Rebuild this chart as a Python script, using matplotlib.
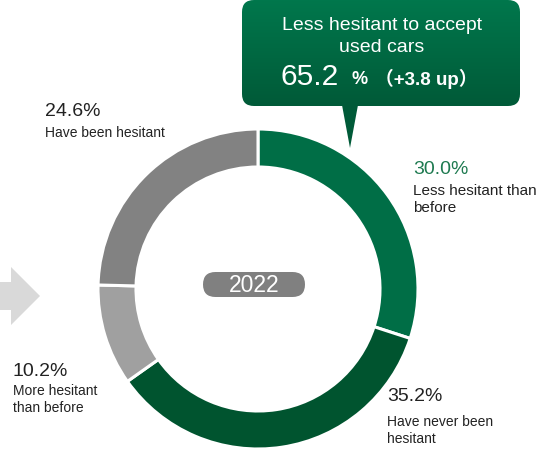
import numpy as np
import matplotlib
matplotlib.use("Agg")
import matplotlib.pyplot as plt
from matplotlib.patches import FancyBboxPatch, Polygon

# ---- data ----
labels = ["Less hesitant than\nbefore", "Have never been\nhesitant",
          "More hesitant\nthan before", "Have been hesitant"]
shares = [30.0, 35.2, 10.2, 24.6]
colors = ["#006E46", "#00542F", "#A0A0A0", "#828282"]
year = "2022"
total_less = 65.2
change = 3.8

W, H = 552, 452
FONT = ["Liberation Sans", "Noto Sans CJK JP", "DejaVu Sans"]
plt.rcParams["font.family"] = FONT

fig = plt.figure(figsize=(W / 100, H / 100), dpi=100)
ax = fig.add_axes([0, 0, 1, 1])


def py(y):
    # pixel row -> axis y
    return H - y


# ---- donut ----
cx, cy, R = 258, py(290), 160
ax.pie(shares, colors=colors, startangle=90, counterclock=False,
       radius=R, center=(cx, cy), frame=True,
       wedgeprops=dict(width=38, edgecolor="white", linewidth=2.2))
ax.set_xlim(0, W)
ax.set_ylim(0, H)
ax.set_aspect("equal")
ax.axis("off")

# year pill in the middle
pill = FancyBboxPatch((203, py(298)), 102, 25,
                      boxstyle="round,pad=0,rounding_size=12.5",
                      fc="#808080", ec="none")
ax.add_patch(pill)
ax.text(254, py(286), year, color="white", fontsize=16.5,
        ha="center", va="center")

# ---- segment labels ----
lab_pos = [(413, 170, "#1E7A50"), (387, 397, "#222222"),
           (13, 372, "#222222"), (45, 111, "#222222")]
desc_off = [22, 26, 20, 23]
desc_size = [11, 10, 10, 10]
for s, lab, (x, y, c), d, fs in zip(shares, labels, lab_pos, desc_off, desc_size):
    ax.text(x, py(y), f"{s:.1f}%", color=c, fontsize=14,
            ha="left", va="center")
    ax.text(x, py(y + d - 8), lab, color="#222222", fontsize=fs,
            ha="left", va="top", linespacing=1.3)

# ---- arrow on the left ----
arrow = Polygon([(0, py(283)), (11, py(283)), (11, py(268)), (40, py(297)),
                 (11, py(326)), (11, py(311)), (0, py(311))],
                closed=True, fc="#D9D9D9", ec="none")
ax.add_patch(arrow)

# ---- callout box with vertical gradient ----
bx0, bx1, by0, by1 = 242, 520, 1, 107
box = FancyBboxPatch((bx0, py(by1)), bx1 - bx0, by1 - by0,
                     boxstyle="round,pad=0,rounding_size=12",
                     fc="none", ec="none")
ax.add_patch(box)
grad = np.linspace(0, 1, 100).reshape(-1, 1)
cmap = matplotlib.colors.LinearSegmentedColormap.from_list(
    "g", ["#00774C", "#005A38"])
img = ax.imshow(grad, cmap=cmap, extent=(bx0, bx1, py(by1), py(by0)),
                origin="upper", aspect="auto", zorder=3)
img.set_clip_path(box)
tail = Polygon([(342, py(by1 - 1)), (358, py(by1 - 1)), (350, py(149))],
               closed=True, fc="#005A38", ec="none", zorder=3)
ax.add_patch(tail)

ax.text(382, py(25), "Less hesitant to accept", color="white",
        fontsize=14, ha="center", va="center", zorder=4)
ax.text(382, py(47), "used cars", color="white",
        fontsize=14, ha="center", va="center", zorder=4)
ax.text(281, py(77), f"{total_less:.1f}", color="white", fontsize=21.5,
        ha="left", va="center", zorder=4)
ax.text(351, py(79), "%", color="white", fontsize=13, fontweight="bold",
        ha="left", va="center", zorder=4)
ax.text(375, py(79), f"（+{change:.1f} up）", color="white", fontsize=13.5,
        fontweight="bold", ha="left", va="center", zorder=4)

fig.savefig("out.png", dpi=100)
